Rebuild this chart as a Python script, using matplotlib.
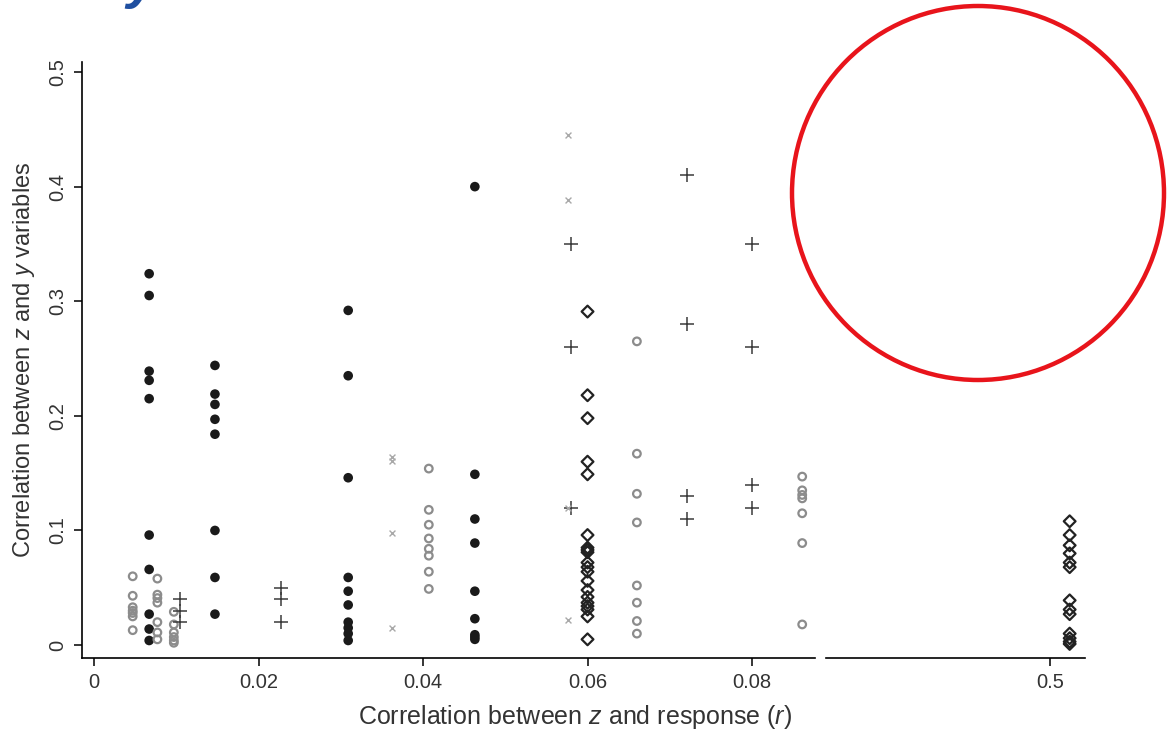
import matplotlib
matplotlib.use("Agg")
import matplotlib.pyplot as plt
from matplotlib.patches import Ellipse

plt.rcParams["font.family"] = ["Liberation Sans", "DejaVu Sans"]
plt.rcParams["mathtext.fontset"] = "custom"
plt.rcParams["mathtext.rm"] = "Liberation Sans"
plt.rcParams["mathtext.it"] = "Liberation Sans:italic"

# filled black dots
dots_x = [0.0067] * 10 + [0.0147] * 8 + [0.0309] * 10 + [0.0463] * 9
dots_y = [0.324, 0.305, 0.239, 0.231, 0.215, 0.096, 0.066, 0.027, 0.014, 0.004,
          0.244, 0.219, 0.210, 0.197, 0.184, 0.100, 0.059, 0.027,
          0.292, 0.235, 0.146, 0.059, 0.047, 0.035, 0.020, 0.015, 0.010, 0.004,
          0.400, 0.149, 0.110, 0.089, 0.047, 0.023, 0.009, 0.007, 0.005]

# hollow grey circles
circ_x = ([0.0047] * 7 + [0.0077] * 7 + [0.0097] * 6 + [0.0407] * 8
          + [0.0660] * 8 + [0.0861] * 7)
circ_y = [0.060, 0.043, 0.033, 0.030, 0.028, 0.025, 0.013,
          0.058, 0.044, 0.041, 0.037, 0.020, 0.011, 0.005,
          0.029, 0.018, 0.011, 0.007, 0.004, 0.002,
          0.154, 0.118, 0.105, 0.093, 0.084, 0.078, 0.064, 0.049,
          0.265, 0.167, 0.132, 0.107, 0.052, 0.037, 0.021, 0.010,
          0.147, 0.135, 0.131, 0.128, 0.115, 0.089, 0.018]

# plus signs
plus_x = [0.0105] * 3 + [0.0227] * 3 + [0.0580] * 3 + [0.0721] * 4 + [0.0800] * 4
plus_y = [0.040, 0.030, 0.020,
          0.050, 0.040, 0.020,
          0.350, 0.260, 0.120,
          0.410, 0.280, 0.130, 0.110,
          0.350, 0.260, 0.140, 0.120]

# light grey crosses
cross_x = [0.0362] * 4 + [0.0576] * 4
cross_y = [0.164, 0.161, 0.098, 0.015,
           0.445, 0.388, 0.120, 0.022]

# hollow diamonds
diam_x = [0.0600] * 20
diam_y = [0.291, 0.218, 0.198, 0.160, 0.149, 0.096, 0.085, 0.083, 0.081, 0.072,
          0.068, 0.064, 0.056, 0.048, 0.042, 0.037, 0.034, 0.031, 0.025, 0.005]
diam2_x = [0.5024] * 13
diam2_y = [0.108, 0.096, 0.087, 0.080, 0.072, 0.068, 0.039, 0.031, 0.027,
           0.010, 0.006, 0.003, 0.001]

xticks_left = [0, 0.02, 0.04, 0.06, 0.08]
xtick_labels_left = ["0", "0.02", "0.04", "0.06", "0.08"]
yticks = [0, 0.1, 0.2, 0.3, 0.4, 0.5]
ytick_labels = ["0", "0.1", "0.2", "0.3", "0.4", "0.5"]

fig = plt.figure(figsize=(11.67, 7.3), dpi=100)
ax = fig.add_axes([0.0703, 0.0986, 0.6281, 0.8164])
ax2 = fig.add_axes([0.7078, 0.0986, 0.2219, 0.8164], sharey=ax)

for a in (ax, ax2):
    a.scatter(dots_x, dots_y, s=48, c="#1a1a1a", edgecolors="none", zorder=3)
    a.scatter(circ_x, circ_y, s=30, facecolors="none", edgecolors="#8c8c8c",
              linewidths=1.6, zorder=3)
    a.scatter(plus_x, plus_y, s=90, marker="+", c="#3a3a3a", linewidths=1.1, zorder=3)
    a.scatter(cross_x, cross_y, s=18, marker="x", c="#a8a8a8", linewidths=1.0, zorder=3)
    a.scatter(diam_x, diam_y, s=36, marker="D", facecolors="none",
              edgecolors="#222222", linewidths=1.6, zorder=3)
    a.scatter(diam2_x, diam2_y, s=36, marker="D", facecolors="none",
              edgecolors="#222222", linewidths=1.6, zorder=3)
    for s in ("top", "right"):
        a.spines[s].set_visible(False)
    a.spines["bottom"].set_linewidth(1.2)
    a.tick_params(direction="out", length=6, width=1.1, labelsize=14.5, pad=5,
                  labelcolor="#333333")

ax.set_xlim(-0.00146, 0.08766)
ax2.set_xlim(0.47277, 0.50426)
ax.set_ylim(-0.0113, 0.5087)

ax.set_xticks(xticks_left, xtick_labels_left)
ax2.set_xticks([0.5], ["0.5"])
ax.set_yticks(yticks, ytick_labels)
for lab in ax.get_yticklabels():
    lab.set_rotation(90)
    lab.set_va("center")
ax.spines["left"].set_linewidth(1.2)
ax2.spines["left"].set_visible(False)
ax2.tick_params(axis="y", left=False, labelleft=False)

ax.set_ylabel("Correlation between $\\mathit{z}$ and $\\mathit{y}$ variables",
              fontsize=17, labelpad=8, color="#333333")
fig.text(0.493, 0.018, "Correlation between $\\mathit{z}$ and response ($\\mathit{r}$)",
         fontsize=18, ha="center", va="center", color="#333333")

# cut-off blue heading glyph at the top
fig.text(0.108, 1.004, "y", fontsize=40, color="#1f4fa0", fontweight="bold",
         fontstyle="italic", ha="left", va="baseline")

# red circle annotation
fig.patches.append(Ellipse((978 / 1167, 1 - 193 / 730), 372 / 1167, 374 / 730,
                           transform=fig.transFigure, fill=False,
                           edgecolor="#e8141b", linewidth=3.2, zorder=10))

fig.savefig("out.png", dpi=100)
